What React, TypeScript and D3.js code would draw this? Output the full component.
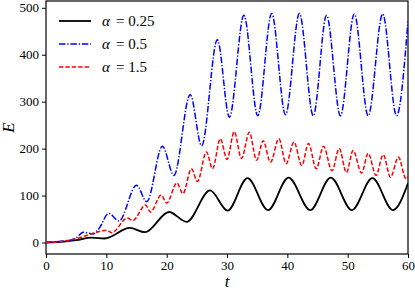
import React, { useEffect, useRef } from 'react';
import { select, line, curveMonotoneX, scaleLinear, axisBottom, axisLeft } from 'd3';

// alpha = 0.25 (black, solid)
const tBlack = [0, 3, 5, 7.6, 9.7, 13.9, 16.4, 20.4, 23.3, 27.2, 30.1, 33.4, 36.8, 40.2, 43.8, 47.2, 50.7, 54.1, 57.5, 60];
const eBlack = [0, 2, 5, 10.5, 8.5, 31, 22, 65, 44, 111, 68, 137, 69, 138, 69, 138, 69, 137, 69, 126];

// alpha = 0.5 (blue, dash-dot)
const tBlue = [0, 2, 4, 5, 6.2, 7.8, 8.8, 10.4, 12.1, 15.0, 16.7, 19.3, 21.2, 23.9, 25.8, 28.4, 30.4, 32.8, 35.1, 37.4, 39.7, 42.0, 44.3, 46.5, 48.8, 51.1, 53.4, 55.8, 58.1, 60];
const eBlue = [0, 2, 5, 10, 22, 18, 30, 62, 46, 122, 87, 205, 143, 315, 206, 432, 267, 484, 270, 488, 272, 488, 270, 484, 270, 487, 270, 487, 270, 472];

// alpha = 1.5 (red, dashed)
const tRed = [0, 3, 5, 6.5, 8.4, 10.0, 10.9, 13.5, 14.4, 16.5, 17.3, 19.1, 20.0, 21.7, 22.7, 24.1, 25.1, 26.6, 27.6, 28.9, 30.0, 31.2, 32.4, 33.7, 34.9, 36.0, 37.2, 38.6, 39.8, 41.1, 42.4, 43.5, 44.8, 46.0, 47.4, 48.6, 49.8, 50.9, 52.3, 53.4, 54.7, 55.9, 57.1, 58.4, 59.7, 60];
const eRed = [0, 3, 8, 14, 22, 26, 21, 52, 47, 80, 65, 101, 84, 127, 104, 157, 130, 193, 157, 221, 177, 236, 179, 235, 175, 217, 171, 221, 168, 214, 164, 211, 157, 205, 153, 200, 149, 196, 148, 190, 143, 187, 139, 182, 135, 140];

const xTicks = [0, 10, 20, 30, 40, 50, 60];
const yTicks = [0, 100, 200, 300, 400, 500];

const series = [
  { t: tBlack, e: eBlack, label: '0.25', color: '#000000', width: 1.8, dash: null },
  { t: tBlue, e: eBlue, label: '0.5', color: '#0000ff', width: 1.5, dash: '6.5,1.8,1.3,1.8' },
  { t: tRed, e: eRed, label: '1.5', color: '#ff0000', width: 1.5, dash: '4.4,2' },
];

const FONT = 'Liberation Serif';

const App = () => {
  const svgRef = useRef(null);

  useEffect(() => {
    const svg = select(svgRef.current);
    svg.selectAll('*').remove();

    const width = 415;
    const height = 290;
    const margin = { top: 1, right: 7, bottom: 36, left: 46 };

    const xScale = scaleLinear()
      .domain([0, 60])
      .range([margin.left, width - margin.right]);

    const yScale = scaleLinear()
      .domain([-24.5, 514.5])
      .range([height - margin.bottom, margin.top]);

    svg.append('rect')
      .attr('width', width)
      .attr('height', height)
      .attr('fill', '#fff');

    const gx = svg.append('g')
      .attr('transform', `translate(0,${height - margin.bottom})`)
      .call(axisBottom(xScale).tickValues(xTicks).tickSize(4).tickPadding(3).tickFormat((d) => String(d)));

    const gy = svg.append('g')
      .attr('transform', `translate(${margin.left},0)`)
      .call(axisLeft(yScale).tickValues(yTicks).tickSize(4).tickPadding(3).tickFormat((d) => String(d)));

    [gx, gy].forEach((g) => {
      g.attr('font-family', FONT).attr('font-size', 13);
      g.select('.domain').remove();
      g.selectAll('line').attr('stroke', '#000').attr('stroke-width', 1);
      g.selectAll('text').attr('fill', '#000');
    });

    // frame
    svg.append('rect')
      .attr('x', margin.left)
      .attr('y', margin.top)
      .attr('width', width - margin.left - margin.right)
      .attr('height', height - margin.top - margin.bottom)
      .attr('fill', 'none')
      .attr('stroke', '#000')
      .attr('stroke-width', 1.2);

    svg.append('clipPath')
      .attr('id', 'plot-clip')
      .append('rect')
      .attr('x', margin.left)
      .attr('y', margin.top)
      .attr('width', width - margin.left - margin.right)
      .attr('height', height - margin.top - margin.bottom);

    const plot = svg.append('g').attr('clip-path', 'url(#plot-clip)');

    series.forEach((s) => {
      const pts = s.t.map((t, i) => [t, s.e[i]]);
      const gen = line()
        .x((d) => xScale(d[0]))
        .y((d) => yScale(d[1]))
        .curve(curveMonotoneX);
      plot.append('path')
        .datum(pts)
        .attr('fill', 'none')
        .attr('stroke', s.color)
        .attr('stroke-width', s.width)
        .attr('stroke-dasharray', s.dash)
        .attr('d', gen);
    });

    // legend
    const legend = svg.append('g')
      .attr('font-family', FONT)
      .attr('font-size', 15);
    series.forEach((s, i) => {
      const y = 21 + i * 23;
      legend.append('line')
        .attr('x1', 59)
        .attr('x2', 91)
        .attr('y1', y)
        .attr('y2', y)
        .attr('stroke', s.color)
        .attr('stroke-width', s.width)
        .attr('stroke-dasharray', s.dash);
      const txt = legend.append('text')
        .attr('x', 102)
        .attr('y', y + 5);
      txt.append('tspan').attr('font-style', 'italic').text('α');
      txt.append('tspan').attr('dx', 6).text('=');
      txt.append('tspan').attr('dx', 4).text(s.label);
    });

    // axis labels
    svg.append('text')
      .attr('x', xScale(30))
      .attr('y', 287)
      .attr('text-anchor', 'middle')
      .attr('font-family', FONT)
      .attr('font-size', 17)
      .attr('font-style', 'italic')
      .text('t');

    svg.append('text')
      .attr('transform', `translate(14,${(margin.top + height - margin.bottom) / 2}) rotate(-90)`)
      .attr('text-anchor', 'middle')
      .attr('font-family', FONT)
      .attr('font-size', 17)
      .attr('font-style', 'italic')
      .text('E');
  }, []);

  return (
    <svg
      ref={svgRef}
      width={415}
      height={290}
      style={{ position: 'absolute', left: 0, top: 0 }}
    />
  );
};

export default App;
